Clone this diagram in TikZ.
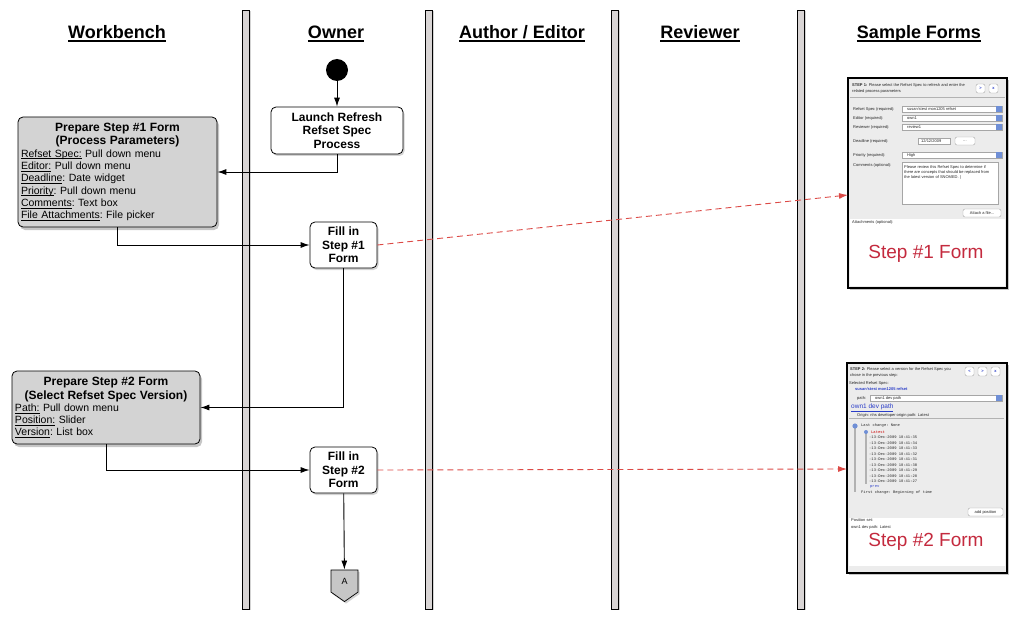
\documentclass[tikz,border=0pt]{standalone}
\usepackage{xcolor}
\usepackage{fontspec}
\setmainfont{Liberation Sans}
\setmonofont{Liberation Mono}
\usepackage{tikz}
\usetikzlibrary{shadows, shapes.symbols, arrows.meta}

\definecolor{lanegray}{HTML}{D9D5D5}
\definecolor{boxgray}{HTML}{D3D3D3}
\definecolor{formgray}{HTML}{ECECEC}
\definecolor{formred}{HTML}{C42A3E}
\definecolor{linkblue}{HTML}{2A3DC8}
\definecolor{btnblue}{HTML}{6F8FD6}
\definecolor{dashred}{HTML}{DC4A46}

\tikzset{
  lanebar/.style={fill=lanegray, draw=black, line width=0.8pt,
    drop shadow={shadow xshift=1.5pt, shadow yshift=-1pt, opacity=0.35}},
  lanehead/.style={font=\fontsize{18}{20}\selectfont\bfseries, inner sep=1pt, anchor=base},
  startdot/.style={circle, fill=black, minimum size=22, inner sep=0pt},
  actbox/.style={draw=black, line width=0.8pt, rounded corners=5pt, fill=white,
    align=center, inner sep=1pt, font=\fontsize{12}{13.6}\selectfont\bfseries,
    drop shadow={shadow xshift=1.5pt, shadow yshift=-2pt, opacity=0.35}},
  prepbox/.style={draw=black, line width=0.8pt, rounded corners=5pt, fill=boxgray,
    align=left, inner sep=3pt, font=\frenchspacing\fontsize{10.5}{12.3}\selectfont,
    drop shadow={shadow xshift=2pt, shadow yshift=-3pt, opacity=0.45}},
  offpage/.style={signal, signal to=south, signal pointer angle=110, draw=black,
    line width=0.7pt, fill=gray!45, minimum width=27, minimum height=25,
    inner sep=1pt, font=\fontsize{9}{10}\selectfont,
    drop shadow={shadow xshift=1.5pt, shadow yshift=-2pt, opacity=0.35}},
  flow/.style={-{Latex[length=9pt, width=6pt]}, line width=0.9pt},
  formlink/.style={-{Latex[length=9pt, width=6pt]}, dashed,
    dash pattern=on 6pt off 4pt, line width=0.9pt, dashred},
  formframe/.style={draw=black, line width=1.4pt, fill=formgray, inner sep=0pt,
    drop shadow={shadow xshift=2pt, shadow yshift=-2pt, opacity=0.45}},
  formtxt/.style={font=\fontsize{4}{5}\selectfont, inner sep=0pt, anchor=west, text=black!85},
  formmono/.style={font=\ttfamily\fontsize{3.8}{5}\selectfont, inner sep=0pt, anchor=west, text=black!85},
  dropbox/.style={draw=gray!70, fill=white, line width=0.3pt},
  formbtn/.style={draw=gray!70, fill=white, line width=0.4pt, rounded corners=2pt},
  bigred/.style={font=\fontsize{19}{20}\selectfont, text=formred, inner sep=0pt}
}

\newcommand{\prephead}{\fontsize{12}{13.6}\selectfont\bfseries}
% underline drawn as a rule: #1 depth, #2 thickness, #3 text
\newcommand{\ulrule}[3]{\leavevmode\setbox0\hbox{#3}\rlap{\rule[-#1]{\wd0}{#2}}\box0\relax}
\newcommand{\fieldname}[1]{\ulrule{1.9pt}{0.75pt}{#1}}
\newcommand{\lanetitle}[1]{\ulrule{2.8pt}{1.3pt}{#1}}

\begin{document}
\begin{tikzpicture}[x=1pt, y=-1pt]
    \useasboundingbox (0,0) rectangle (1018,623);

    % swimlane separators
    \foreach \xx in {242,425,611,797} {
        \draw[lanebar] (\xx,10) rectangle ++(7,599);
    }

    % lane titles
    \node[lanehead] (hWork) at (117,39) {\lanetitle{Workbench}};
    \node[lanehead] (hOwner) at (336,39) {\lanetitle{Owner}};
    \node[lanehead] (hAuthor) at (522,39) {\lanetitle{Author / Editor}};
    \node[lanehead] (hReview) at (700,39) {\lanetitle{Reviewer}};
    \node[lanehead] (hSample) at (919,39) {\lanetitle{Sample Forms}};

    % owner lane
    \node[startdot] (start) at (337,70) {};
    \node[actbox, minimum width=132, minimum height=47] (launch) at (337,130.5) {Launch Refresh\\Refset Spec\\Process};
    \node[actbox, minimum width=67, minimum height=46] (fill1) at (343.5,245) {Fill in\\Step \#1\\Form};
    \node[actbox, minimum width=67, minimum height=46] (fill2) at (343.5,470) {Fill in\\Step \#2\\Form};
    \node[offpage] (offA) at (344.5,581) {A};

    % workbench lane
    \node[prepbox, text width=193, minimum height=110] (prep1) at (117.5,172) {%
        {\centering\prephead Prepare Step \#1 Form\\(Process Parameters)\par}
        \fieldname{Refset Spec:} Pull down menu\\
        \fieldname{Editor:} Pull down menu\\
        \fieldname{Deadline}: Date widget\\
        \fieldname{Priority}: Pull down menu\\
        \fieldname{Comments}: Text box\\
        \fieldname{File Attachments}: File picker};
    \node[prepbox, text width=182, minimum height=73] (prep2) at (106,407.5) {%
        {\centering\prephead Prepare Step \#2 Form\\(Select Refset Spec Version)\par}
        \fieldname{Path:} Pull down menu\\
        \fieldname{Position:} Slider\\
        \fieldname{Version}: List box};

    % sample forms
    \node[formframe, minimum width=159, minimum height=210] (form1) at (927.5,183) {};
    \node[formframe, minimum width=160, minimum height=210] (form2) at (927,468) {};
    \coordinate (f1in) at (848,195);
    \coordinate (f2in) at (847,469);

    % flow
    \draw[flow] (start) -- (launch);
    \draw[flow] (launch.south) |- (prep1.east);
    \draw[flow] (prep1.south) |- (fill1.west);
    \draw[flow] (fill1.south) |- (prep2.east);
    \draw[flow] (prep2.south) |- (fill2.west);
    \draw[flow] (fill2) -- (offA);
    \draw[formlink] (fill1.east) -- (f1in);
    \draw[formlink] (fill2.east) -- (f2in);

    % form 1 contents
    \node[formtxt] (f1h1) at (852,85) {\textbf{STEP 1:} Please select the Refset Spec to refresh and enter the};
    \node[formtxt] (f1h2) at (852,91) {related process parameters};
    \draw[formbtn] (976,84) rectangle (985,93);
    \draw[formbtn] (989,84) rectangle (998,93);
    \node[formtxt, text=linkblue, anchor=center] (f1bn) at (980.5,88.5) {\textbf{>}};
    \node[formtxt, text=linkblue, anchor=center] (f1bx) at (993.5,88.5) {\textbf{x}};
    \draw[gray!60, line width=0.3pt] (850,97) -- (1005,97);
    \foreach \lbl/\val/\yy [count=\i] in {Refset Spec (required):/susan'stest mon1205 refset/109,
        Editor (required):/own1/118, Reviewer (required):/review1/127, Priority (required):/High/155} {
        \node[formtxt] (f1lbl\i) at (853,\yy) {\lbl};
        \draw[dropbox] (902,\yy-3) rectangle (1002,\yy+3);
        \fill[btnblue] (996,\yy-3) rectangle (1002,\yy+3);
        \node[formtxt] (f1val\i) at (907,\yy) {\val};
    }
    \node[formtxt] (f1dl) at (853,141) {Deadline (required):};
    \draw[dropbox] (918,138) rectangle (950,144);
    \node[formtxt] (f1date) at (921,141) {12/12/2009};
    \draw[formbtn] (955,137) rectangle (975,145);
    \node[formtxt, anchor=center] (f1dots) at (965,141) {...};
    \node[formtxt] (f1cm) at (853,165) {Comments (optional):};
    \draw[dropbox] (902,162) rectangle (998,204);
    \node[formtxt] (f1c1) at (904,167) {Please review this Refset Spec to determine if};
    \node[formtxt] (f1c2) at (904,172) {there are concepts that should be replaced from};
    \node[formtxt] (f1c3) at (904,177) {the latest version of SNOMED. |};
    \draw[formbtn] (963,209) rectangle (1001,217);
    \node[formtxt, anchor=center] (f1att) at (982,213) {Attach a file...};
    \fill[white] (850,219) rectangle (1005,286);
    \node[formtxt] (f1atl) at (852,222) {Attachments (optional):};
    \node[bigred] (f1big) at (926,254) {Step \#1 Form};

    % form 2 contents
    \node[formtxt] (f2h1) at (850,369) {\textbf{STEP 2:} Please select a version for the Refset Spec you};
    \node[formtxt] (f2h2) at (850,375) {chose in the previous step:};
    \foreach \xb/\sym [count=\i] in {965/<, 978/>, 991/x} {
        \draw[formbtn] (\xb,367) rectangle ++(9,9);
        \node[formtxt, text=linkblue, anchor=center] (f2b\i) at (\xb+4.5,371.5) {\textbf{\sym}};
    }
    \node[formtxt] (f2sel) at (849,383) {Selected Refset Spec:};
    \node[formtxt, text=linkblue] (f2name) at (855,389) {\textbf{susan'stest mon1205 refset}};
    \node[formtxt] (f2path) at (857,398) {path:};
    \draw[dropbox] (870,395) rectangle (1002,401);
    \fill[btnblue] (996,395) rectangle (1002,401);
    \node[formtxt] (f2pv) at (875,398) {own1 dev path};
    \node[formtxt, text=linkblue, font=\fontsize{6.5}{7}\selectfont] (f2own) at (851,408) {\underline{own1 dev path}};
    \node[formtxt] (f2org) at (857,415) {Origin: nhs developer origin path: Latest};
    \draw[gray!60, line width=0.3pt] (849,418.5) -- (1004,418.5);
    \draw[gray!60, line width=1.6pt] (855,426) -- (855,492);
    \fill[btnblue] (855,426) circle (2.6);
    \node[formmono] (f2last) at (861,426) {Last change: None};
    \draw[gray!60, line width=1.3pt] (866,432) -- (866,484);
    \fill[btnblue] (866,432) circle (2);
    \node[formmono, text=red!80!black] (f2latest) at (871,432) {Latest};
    \foreach \t [count=\i] in {35,34,...,27} {
        \node[formmono] (f2d\i) at (869,432+5.5*\i) {-13-Dec-2009 18:41:\t};
    }
    \node[formmono, text=linkblue] (f2prev) at (870,486.5) {prev};
    \node[formmono] (f2first) at (861,493) {First change: Beginning of time};
    \draw[formbtn] (968,508) rectangle (1003,516);
    \node[formtxt, anchor=center] (f2add) at (985.5,512) {add position};
    \fill[white] (849,518) rectangle (1005,566);
    \node[formtxt] (f2pos) at (851,520.5) {Position set:};
    \node[formtxt] (f2cur) at (851,527) {own1 dev path: Latest};
    \node[bigred] (f2big) at (926,542) {Step \#2 Form};
\end{tikzpicture}
\end{document}
